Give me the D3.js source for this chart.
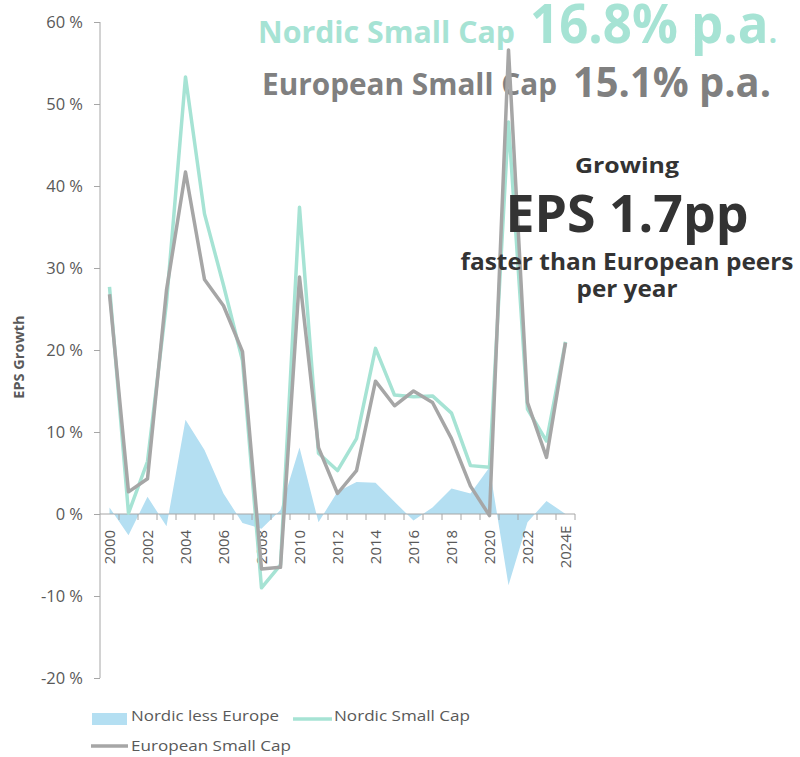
<!DOCTYPE html>
<html>
<head>
<meta charset="utf-8">
<script src="https://cdn.jsdelivr.net/npm/d3@7/dist/d3.min.js"></script>
<style>
  html, body { margin: 0; padding: 0; background: #fff; }
  svg { display: block; }
  text { font-family: "Open Sans", "Noto Sans", sans-serif; }
</style>
</head>
<body>
<svg id="chart" width="800" height="757"></svg>
<script>
// ---- Data ----
const years = ["2000","2001","2002","2003","2004","2005","2006","2007","2008","2009","2010","2011","2012","2013","2014","2015","2016","2017","2018","2019","2020","2021","2022","2023","2024E"];
const nordicSmallCap = [27.7, 0.1, 6.4, 25.8, 53.3, 36.6, 27.9, 18.7, -9.0, -6.2, 37.4, 7.4, 5.3, 9.2, 20.2, 14.5, 14.3, 14.4, 12.3, 5.9, 5.7, 47.8, 12.8, 8.9, 21.0];
const europeanSmallCap = [26.8, 2.7, 4.3, 27.3, 41.7, 28.6, 25.4, 19.8, -6.7, -6.5, 28.9, 8.1, 2.5, 5.3, 16.2, 13.2, 15.0, 13.6, 9.2, 3.4, -0.2, 56.6, 13.6, 6.9, 20.9];
const nordicLessEurope = [0.8, -2.6, 2.1, -1.5, 11.5, 7.8, 2.5, -1.1, -1.8, 0.5, 8.1, -1.0, 2.7, 3.9, 3.8, 1.5, -0.8, 0.8, 3.1, 2.5, 5.7, -8.7, -1.0, 1.6, 0.0];
const yTicks = [-20, -10, 0, 10, 20, 30, 40, 50, 60];
const xLabels = years;

const seriesNames = ["Nordic less Europe", "Nordic Small Cap", "European Small Cap"];

// ---- Styles ----
const TEAL = "#a6e3d4";
const GRAY = "#a6a6a6";
const BLUE = "#b4dff2";
const AXIS = "#a6a6a6";
const LABEL = "#595959";

const svg = d3.select("#chart");

const x = d3.scaleBand().domain(years).range([100, 575]).padding(0);
const y = d3.scaleLinear().domain([-20, 60]).range([678, 22]);
const cx = d => x(d) + x.bandwidth() / 2;

function fit(sel, w) {
  sel.attr("textLength", w).attr("lengthAdjust", "spacingAndGlyphs");
  return sel;
}

// ---- Titles (behind lines) ----
fit(svg.append("text").attr("x", 258).attr("y", 43)
  .attr("font-size", 31).attr("font-weight", 700).attr("fill", TEAL)
  .text("Nordic Small Cap"), 257);
const big = svg.append("text").attr("x", 530).attr("y", 43)
  .attr("font-weight", 700).attr("fill", TEAL);
big.append("tspan").attr("font-size", 54).text("16.8% p.a");
big.append("tspan").attr("font-size", 31).text(".");
fit(big, 247);
fit(svg.append("text").attr("x", 262).attr("y", 95)
  .attr("font-size", 30).attr("font-weight", 700).attr("fill", "#808080")
  .text("European Small Cap"), 295);
fit(svg.append("text").attr("x", 573).attr("y", 97)
  .attr("font-size", 42).attr("font-weight", 700).attr("fill", "#808080")
  .text("15.1% p.a."), 198);

// ---- Axes ----
const yAxis = d3.axisLeft(y).tickValues(yTicks).tickSize(6).tickPadding(11)
  .tickFormat(d => d + " %");
const gy = svg.append("g").attr("transform", "translate(100,0)").call(yAxis);
gy.select(".domain").attr("stroke", AXIS).attr("d", `M0,${y(60)}V${y(-20)}`);
gy.selectAll(".tick line").attr("stroke", AXIS);
gy.selectAll(".tick text").attr("fill", LABEL).attr("font-size", 16.5)
  .attr("font-family", "'Open Sans', sans-serif");

// Area
const area = d3.area()
  .x((d, i) => cx(years[i]))
  .y0(y(0))
  .y1(d => y(d));
svg.append("path").datum(nordicLessEurope)
  .attr("d", area).attr("fill", BLUE);

// X axis at zero
const gx = svg.append("g").attr("transform", `translate(0,${y(0)})`);
gx.append("line").attr("x1", 100).attr("x2", 575).attr("y1", 0).attr("y2", 0)
  .attr("stroke", AXIS);
const bounds = years.map(d => x(d)).concat([575]);
gx.selectAll("line.tk").data(bounds.slice(1)).enter().append("line")
  .attr("class", "tk")
  .attr("x1", d => d).attr("x2", d => d).attr("y1", 0).attr("y2", 6)
  .attr("stroke", AXIS);
gx.selectAll("text").data(xLabels.filter((d, i) => i % 2 === 0)).enter().append("text")
  .attr("transform", d => `translate(${cx(d)},33) rotate(-90)`)
  .attr("text-anchor", "middle").attr("dy", "0.35em")
  .attr("font-size", 15).attr("fill", LABEL)
  .text(d => d);

// Lines
const line = d3.line().x((d, i) => cx(years[i])).y(d => y(d));
svg.append("path").datum(nordicSmallCap).attr("d", line)
  .attr("fill", "none").attr("stroke", TEAL).attr("stroke-width", 3.5)
  .attr("stroke-linejoin", "round");
svg.append("path").datum(europeanSmallCap).attr("d", line)
  .attr("fill", "none").attr("stroke", GRAY).attr("stroke-width", 3.5)
  .attr("stroke-linejoin", "round");

// Y axis title
svg.append("text").attr("transform", "translate(24,357) rotate(-90)")
  .attr("text-anchor", "middle").attr("font-size", 14.5).attr("font-weight", 700)
  .attr("fill", LABEL).text("EPS Growth");

// ---- Annotation block ----
const ann = [
  {t: "Growing", s: 22, yb: 173, w: 104},
  {t: "EPS 1.7pp", s: 52, yb: 232, w: 243},
  {t: "faster than European peers", s: 23, yb: 270, w: 333},
  {t: "per year", s: 23, yb: 297, w: 101}
];
ann.forEach(a => {
  fit(svg.append("text").attr("x", 627 - a.w / 2).attr("y", a.yb)
    .attr("font-size", a.s).attr("font-weight", 700).attr("fill", "#333333")
    .text(a.t), a.w);
});

// ---- Legend ----
const lg = svg.append("g");
lg.append("rect").attr("x", 92).attr("y", 713).attr("width", 35).attr("height", 12).attr("fill", BLUE);
fit(lg.append("text").attr("x", 131).attr("y", 721).attr("font-size", 15).attr("fill", LABEL)
  .text(seriesNames[0]), 148);
lg.append("line").attr("x1", 293).attr("x2", 332).attr("y1", 719).attr("y2", 719)
  .attr("stroke", TEAL).attr("stroke-width", 3.5);
fit(lg.append("text").attr("x", 334).attr("y", 721).attr("font-size", 15).attr("fill", LABEL)
  .text(seriesNames[1]), 136);
lg.append("line").attr("x1", 91).attr("x2", 128).attr("y1", 746).attr("y2", 746)
  .attr("stroke", GRAY).attr("stroke-width", 3.5);
fit(lg.append("text").attr("x", 131).attr("y", 751).attr("font-size", 15).attr("fill", LABEL)
  .text(seriesNames[2]), 160);
</script>
</body>
</html>
